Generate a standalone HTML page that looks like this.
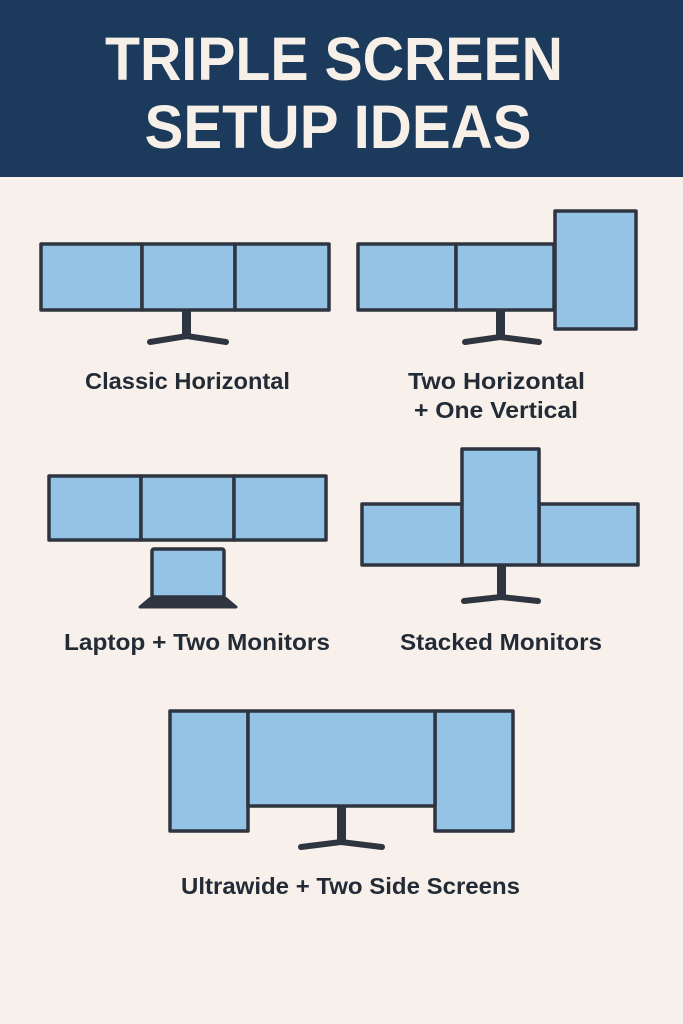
<!DOCTYPE html>
<html><head><meta charset="utf-8"><style>
html,body{margin:0;padding:0;background:#f8f1eb}
svg{display:block}
text{font-family:"Liberation Sans",sans-serif;font-weight:bold}
</style></head><body>
<svg width="683" height="1024" viewBox="0 0 683 1024" xmlns="http://www.w3.org/2000/svg">
<rect width="683" height="1024" fill="#f8f1eb"/>
<rect width="683" height="177" fill="#1b3a5c"/>
<text x="334" y="80" font-size="61" fill="#f7f0e8" text-anchor="middle" textLength="458" lengthAdjust="spacingAndGlyphs">TRIPLE SCREEN</text>
<text x="338" y="148" font-size="61" fill="#f7f0e8" text-anchor="middle" textLength="387" lengthAdjust="spacingAndGlyphs">SETUP IDEAS</text>
<g fill="#94c3e6" stroke="#2e3540" stroke-width="3.5" stroke-linejoin="round">
<rect x="41" y="244" width="101" height="66"/><rect x="142" y="244" width="93" height="66"/><rect x="235" y="244" width="94" height="66"/>
<rect x="358" y="244" width="98" height="66"/><rect x="456" y="244" width="98" height="66"/><rect x="555" y="211" width="81" height="118"/>
<rect x="49" y="476" width="92" height="64"/><rect x="141" y="476" width="93" height="64"/><rect x="234" y="476" width="92" height="64"/>
<rect x="152" y="549" width="72" height="48" rx="2"/>
<rect x="362" y="504" width="100" height="61"/><rect x="539" y="504" width="99" height="61"/><rect x="462" y="449" width="77" height="116"/>
<rect x="170" y="711" width="78" height="120"/><rect x="435" y="711" width="78" height="120"/><rect x="248" y="711" width="187" height="95"/>
</g>
<g fill="#2e3540" stroke="#2e3540" stroke-linecap="round">
<rect x="182" y="311" width="9" height="26" stroke="none"/>
<path d="M150 342 L187 336 L226 342" stroke-width="6" fill="none"/>
<rect x="496" y="311" width="9" height="27" stroke="none"/>
<path d="M465 342 L500 337 L539 342" stroke-width="6" fill="none"/>
<rect x="497" y="566" width="9" height="31" stroke="none"/>
<path d="M464 601 L501 597 L538 601" stroke-width="6" fill="none"/>
<rect x="337" y="807" width="9" height="35" stroke="none"/>
<path d="M301 847 L341 842 L382 847" stroke-width="6" fill="none"/>
<path d="M152 597 L224 597 L236 607 L140 607 Z" stroke-width="3" stroke-linejoin="round"/>
</g>
<g font-size="23" fill="#232b36">
<text x="85" y="389" textLength="205" lengthAdjust="spacingAndGlyphs">Classic Horizontal</text>
<text x="408" y="389" textLength="177" lengthAdjust="spacingAndGlyphs">Two Horizontal</text>
<text x="414" y="418" textLength="164" lengthAdjust="spacingAndGlyphs">+ One Vertical</text>
<text x="64" y="650" textLength="266" lengthAdjust="spacingAndGlyphs">Laptop + Two Monitors</text>
<text x="400" y="650" textLength="202" lengthAdjust="spacingAndGlyphs">Stacked Monitors</text>
<text x="181" y="894" textLength="339" lengthAdjust="spacingAndGlyphs">Ultrawide + Two Side Screens</text>
</g>
</svg>
</body></html>
